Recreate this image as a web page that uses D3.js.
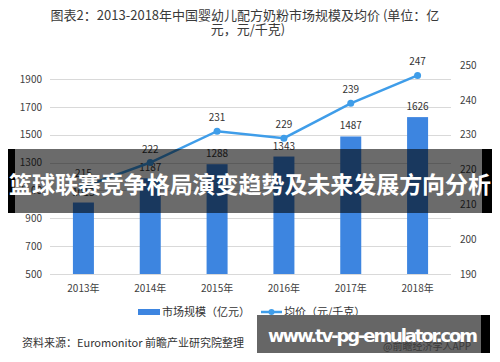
<html>
<head>
    <meta charset="utf-8">
    <script src="https://d3js.org/d3.v7.min.js"></script>
    <style>
        body { margin: 0; background: #fff; }
        svg { display: block; font-family: "Noto Sans CJK SC", "Noto Sans", sans-serif; }
    </style>
</head>
<body>
    <svg width="500" height="362"></svg>
    <script>
        // data
        var years = ['2013年', '2014年', '2015年', '2016年', '2017年', '2018年']
        var marketSize = [1013, 1187, 1288, 1343, 1487, 1626]
        var avgPrice = [215, 222, 231, 229, 239, 247]
        var leftTicks = [500, 700, 900, 1100, 1300, 1500, 1700, 1900]
        var rightTicks = [190, 200, 210, 220, 230, 240, 250]

        var svg = d3.select('svg')
        var barColor = '#3d85e0'
        var lineColor = '#3f9de9'

        var x = d3.scaleBand().domain(years).range([50, 451])
        var yLeft = d3.scaleLinear().domain([500, 2000]).range([274, 65])
        var yRight = d3.scaleLinear().domain([190, 250]).range([274, 65])

        // title
        var title = svg.append('text')
            .attr('fill', '#3a3a3a')
            .style('font-size', '13px')
            .attr('text-anchor', 'middle')
        title.append('tspan').attr('x', 245).attr('y', 20)
            .text('图表2：2013-2018年中国婴幼儿配方奶粉市场规模及均价 (单位：亿')
        title.append('tspan').attr('x', 248).attr('y', 34)
            .text('元，元/千克)')

        // gridlines
        svg.append('g')
            .selectAll('line')
            .data(leftTicks)
            .enter()
            .append('line')
            .attr('x1', 50).attr('x2', 451)
            .attr('y1', function(d) { return Math.round(yLeft(d)) + 0.5 })
            .attr('y2', function(d) { return Math.round(yLeft(d)) + 0.5 })
            .attr('stroke', '#d9d9d9')

        // axes
        var leftAxis = svg.append('g')
            .attr('transform', 'translate(42,0)')
            .call(d3.axisLeft(yLeft).tickValues(leftTicks).tickFormat(d3.format('d')).tickSize(0).tickPadding(0))
        leftAxis.select('.domain').remove()

        var rightAxis = svg.append('g')
            .attr('transform', 'translate(460,0)')
            .call(d3.axisRight(yRight).tickValues(rightTicks).tickFormat(d3.format('d')).tickSize(0).tickPadding(0))
        rightAxis.select('.domain').remove()

        var bottomAxis = svg.append('g')
            .attr('transform', 'translate(0,281)')
            .call(d3.axisBottom(x).tickSize(0).tickPadding(4))
        bottomAxis.select('.domain').remove()

        svg.selectAll('.tick text')
            .attr('fill', '#404040')
            .style('font-size', '10px')
            .style('font-family', '"Noto Sans CJK SC", sans-serif')

        // bars
        var bw = 21
        svg.append('g')
            .selectAll('rect')
            .data(marketSize)
            .enter()
            .append('rect')
            .attr('x', function(d, i) { return x(years[i]) + x.bandwidth() / 2 - bw / 2 })
            .attr('width', bw)
            .attr('y', function(d) { return yLeft(d) })
            .attr('height', function(d) { return yLeft(500) - yLeft(d) })
            .attr('fill', barColor)

        svg.append('g')
            .selectAll('text')
            .data(marketSize)
            .enter()
            .append('text')
            .attr('x', function(d, i) { return x(years[i]) + x.bandwidth() / 2 })
            .attr('y', function(d) { return yLeft(d) - 7 })
            .attr('text-anchor', 'middle')
            .attr('fill', '#333')
            .style('font-size', '10px')
            .text(function(d) { return d })

        // price line
        var line = d3.line()
            .x(function(d, i) { return x(years[i]) + x.bandwidth() / 2 })
            .y(function(d) { return yRight(d) })
        svg.append('path')
            .datum(avgPrice)
            .attr('d', line)
            .attr('fill', 'none')
            .attr('stroke', lineColor)
            .attr('stroke-width', 2.5)

        svg.append('g')
            .selectAll('circle')
            .data(avgPrice)
            .enter()
            .append('circle')
            .attr('cx', function(d, i) { return x(years[i]) + x.bandwidth() / 2 })
            .attr('cy', function(d) { return yRight(d) })
            .attr('r', 3.5)
            .attr('fill', lineColor)

        svg.append('g')
            .selectAll('text')
            .data(avgPrice)
            .enter()
            .append('text')
            .attr('x', function(d, i) { return x(years[i]) + x.bandwidth() / 2 })
            .attr('y', function(d) { return yRight(d) - 10 })
            .attr('text-anchor', 'middle')
            .attr('fill', '#333')
            .style('font-size', '10px')
            .text(function(d) { return d })

        // legend
        var legend = svg.append('g').style('font-size', '11px').attr('fill', '#333')
        legend.append('rect').attr('x', 138).attr('y', 309).attr('width', 22).attr('height', 6).attr('fill', barColor)
        legend.append('text').attr('x', 162).attr('y', 316).text('市场规模（亿元）')
        legend.append('line').attr('x1', 261).attr('x2', 282).attr('y1', 312).attr('y2', 312)
            .attr('stroke', lineColor).attr('stroke-width', 2.5)
        legend.append('circle').attr('cx', 271.5).attr('cy', 312).attr('r', 3).attr('fill', lineColor)
        legend.append('text').attr('x', 284).attr('y', 316).text('均价（元/千克）')

        // source
        svg.append('text')
            .attr('x', 22).attr('y', 347)
            .attr('fill', '#333')
            .style('font-size', '11px')
            .text('资料来源：Euromonitor 前瞻产业研究院整理')

        // banner overlay
        svg.append('rect').attr('x', 8).attr('y', 149).attr('width', 484).attr('height', 64)
            .attr('fill', 'rgba(0,0,0,0.58)')
        svg.append('rect').attr('x', 8).attr('y', 149).attr('width', 7).attr('height', 64).attr('fill', '#000')
        svg.append('rect').attr('x', 482).attr('y', 149).attr('width', 10).attr('height', 64).attr('fill', '#000')
        svg.append('text')
            .attr('x', 250).attr('y', 193)
            .attr('text-anchor', 'middle')
            .attr('fill', '#fff')
            .style('font-size', '23px')
            .style('font-weight', 'bold')
            .attr('textLength', 482)
            .text('篮球联赛竞争格局演变趋势及未来发展方向分析')

        // bottom-right watermark box
        svg.append('rect').attr('x', 257).attr('y', 315).attr('width', 224).attr('height', 38)
            .attr('fill', '#666')
        svg.append('rect').attr('x', 481).attr('y', 315).attr('width', 9).attr('height', 38).attr('fill', '#000')
        svg.append('text')
            .attr('x', 383).attr('y', 350)
            .attr('fill', '#3a3a3a')
            .style('font-size', '10px')
            .text('@前瞻经济学人APP')
        svg.append('text')
            .attr('x', 268).attr('y', 342)
            .attr('fill', '#fff')
            .style('font-size', '18px')
            .style('font-weight', 'bold')
            .style('font-family', '"DejaVu Sans", sans-serif')
            .attr('textLength', 210)
            .text('www.tv-pg-emulator.com')
    </script>
</body>
</html>
